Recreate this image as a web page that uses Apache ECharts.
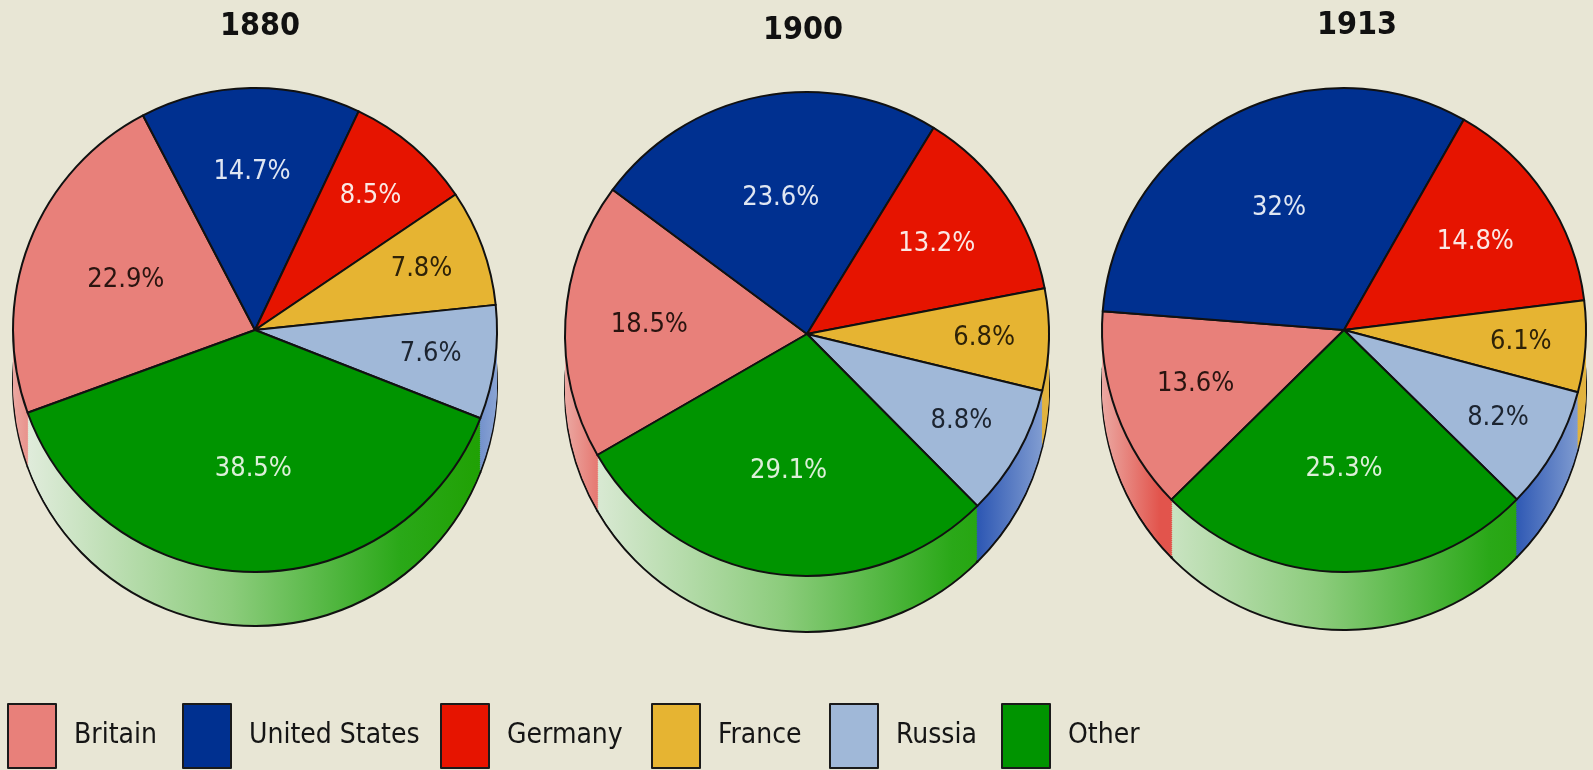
<!DOCTYPE html>
<html>
<head>
<meta charset="utf-8">
<title>Share of world manufacturing</title>
<script src="https://cdn.jsdelivr.net/npm/echarts@6/dist/echarts.min.js"></script>
<style>
html,body{margin:0;padding:0;background:#e8e6d5;}
#main{width:1593px;height:770px;}
</style>
</head>
<body>
<div id="main"></div>
<script>
// data
var categories = ['Britain', 'United States', 'Germany', 'France', 'Russia', 'Other'];
var years = ['1880', '1900', '1913'];
var share1880 = [22.9, 14.7, 8.5, 7.8, 7.6, 38.5];
var share1900 = [18.5, 23.6, 13.2, 6.8, 8.8, 29.1];
var share1913 = [13.6, 32, 14.8, 6.1, 8.2, 25.3];
var shares = [share1880, share1900, share1913];

// styles
var FONT = '"Liberation Sans Narrow", "DejaVu Sans Condensed", "Open Sans", sans-serif';
var colors = ['#e8807a', '#003090', '#e61400', '#e6b432', '#a0b8d8', '#009400'];
var labelColors = ['#2a1410', '#dfe6f2', '#fbe8e4', '#2e2208', '#1c2430', '#dcefd8'];
// side wall of the "3d" pie, light on the left
var wallStops = [
	[[0, '#eba8a2'], [0.12, '#e2544c'], [1, '#e2544c']],
	[[0, '#5a78c0'], [0.8, '#0a36a0'], [1, '#3a64bc']],
	[[0, '#ee7a6a'], [0.8, '#d81800'], [1, '#e03a20']],
	[[0, '#ecca68'], [0.8, '#d6a020'], [1, '#e2b440']],
	[[0, '#7d98cc'], [0.8, '#0c3ca8'], [1, '#8aa4d4']],
	[[0, '#e6eee2'], [0.45, '#8ccc7c'], [0.8, '#2aa818'], [1, '#1ea000']]
];
// layout of the three pies
var pies = [
	{cx: 255, cy: 330, r: 242, depth: 54, start: 200, titleX: 255, titleY: 6},
	{cx: 807, cy: 334, r: 242, depth: 56, start: 210, titleX: 798, titleY: 10},
	{cx: 1344, cy: 330, r: 242, depth: 58, start: 224.5, titleX: 1352, titleY: 5}
];
// label distance from centre (share of radius) by slice size
var labelBands = [
	{min: 0, max: 10, k: 0.72},
	{min: 10, max: 20, k: 0.64},
	{min: 20, max: 101, k: 0.56}
];
var legendLeft = [2, 177, 435, 646, 824, 996];

var myChart = echarts.init(document.getElementById('main'), null, {renderer: 'canvas'});

var series = [];
var titles = [];
// top faces first so the legend takes their colours
pies.forEach(function (p, k) {
	series.push({
		type: 'pie',
		name: years[k],
		center: [p.cx, p.cy],
		radius: p.r,
		startAngle: p.start,
		clockwise: true,
		z: 3,
		silent: true,
		emphasis: {disabled: true},
		label: {show: false},
		labelLine: {show: false},
		itemStyle: {borderColor: '#111', borderWidth: 2},
		data: categories.map(function (c, i) {
			return {name: c, value: shares[k][i], itemStyle: {color: colors[i]}};
		})
	});
	titles.push({
		text: years[k],
		left: p.titleX,
		top: p.titleY,
		textAlign: 'center',
		textStyle: {fontFamily: FONT, fontSize: 32, fontWeight: 'bold', color: '#111'}
	});
});
// labels: clear pies, inside label sits at half their radius
pies.forEach(function (p, k) {
	labelBands.forEach(function (b) {
		series.push({
			type: 'pie',
			center: [p.cx, p.cy],
			radius: p.r * b.k * 2,
			startAngle: p.start,
			z: 4,
			silent: true,
			emphasis: {disabled: true},
			itemStyle: {color: 'rgba(0,0,0,0)', borderWidth: 0},
			labelLine: {show: false},
			label: {show: true, position: 'inside', formatter: '{c}%', fontFamily: FONT, fontSize: 27},
			data: categories.map(function (c, i) {
				var v = shares[k][i];
				return {name: c, value: v, label: {show: v >= b.min && v < b.max, color: labelColors[i]}};
			})
		});
	});
});
// side wall: stacked copies shifted down
pies.forEach(function (p, k) {
	var fills = wallStops.map(function (st) {
		return new echarts.graphic.LinearGradient(p.cx - p.r, 0, p.cx + p.r, 0,
			st.map(function (s) { return {offset: s[0], color: s[1]}; }), true);
	});
	for (var d = p.depth; d > 0; d -= 2) {
		series.push({
			type: 'pie',
			center: [p.cx, p.cy + d],
			radius: p.r,
			startAngle: p.start,
			z: 1,
			silent: true,
			emphasis: {disabled: true},
			label: {show: false},
			labelLine: {show: false},
			itemStyle: {borderColor: '#111', borderWidth: d === p.depth ? 2 : 0},
			data: categories.map(function (c, i) {
				return {name: c, value: shares[k][i], itemStyle: {color: fills[i]}};
			})
		});
	}
});

myChart.setOption({
	backgroundColor: '#e8e6d5',
	animation: false,
	title: titles,
	legend: categories.map(function (c, i) {
		return {
			data: [c],
			left: legendLeft[i],
			top: 698,
			icon: 'rect',
			itemWidth: 48,
			itemHeight: 64,
			selectedMode: false,
			itemStyle: {borderColor: '#1a1a1a', borderWidth: 2},
			textStyle: {fontFamily: FONT, fontSize: 28, color: '#151515', padding: [0, 0, 0, 13]}
		};
	}),
	series: series
});
</script>
</body>
</html>
